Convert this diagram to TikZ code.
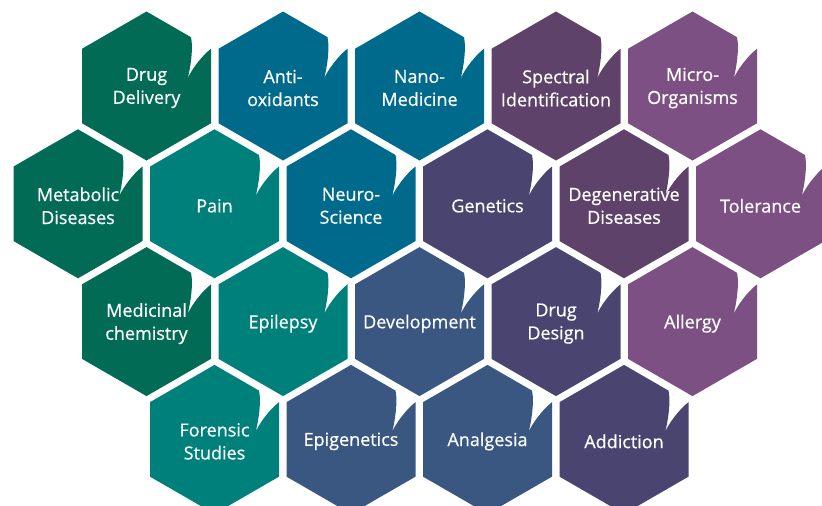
\documentclass[tikz,border=0pt]{standalone}
\usepackage{fontspec}
\setmainfont{Open Sans}
\newfontfamily\cellfont[FakeBold=0.6]{Open Sans}
\usetikzlibrary{positioning}

\definecolor{dgreen}{HTML}{016B55}
\definecolor{teal}{HTML}{00807A}
\definecolor{petrol}{HTML}{006A8C}
\definecolor{slate}{HTML}{3A5782}
\definecolor{indigo}{HTML}{4A4470}
\definecolor{plum}{HTML}{5F4269}
\definecolor{mauve}{HTML}{7D5083}

\tikzset{
  celltext/.style={text=white, align=center, font=\cellfont\fontsize{18}{23}\selectfont},
  pics/cell/.style n args={2}{
    code={
      % hexagon with the curled corner at the upper right
      \fill[#1] (0,74.5) -- (44.5,48.8) .. controls (47,38) and (44,18) .. (41,7)
        .. controls (44,15) and (55,30) .. (64.5,37.25) -- (64.5,-37.25)
        -- (0,-74.5) -- (-64.5,-37.25) -- (-64.5,37.25) -- cycle;
      \node[celltext] (-txt) at (0,-2) {#2};
    }
  }
}

\begin{document}
\begin{tikzpicture}[x=1pt,y=1pt]
    \useasboundingbox (0,0) rectangle (822,-506);
    \clip (0,0) rectangle (822,-506);
    % first row
    \pic (dd) at (146.5,-86) {cell={dgreen}{Drug\\Delivery}};
    \pic (ao) at (283,-86) {cell={petrol}{Anti-\\oxidants}};
    \pic (nm) at (419.5,-86) {cell={petrol}{Nano-\\Medicine}};
    \pic (si) at (556,-86) {cell={plum}{Spectral\\Identification}};
    \pic (mo) at (692.5,-86) {cell={mauve}{Micro-\\Organisms}};
    % second row
    \pic (md) at (78,-203.8) {cell={dgreen}{Metabolic\\Diseases}};
    \pic (pa) at (214.5,-203.8) {cell={teal}{Pain}};
    \pic (ns) at (351,-203.8) {cell={petrol}{Neuro-\\Science}};
    \pic (ge) at (487.5,-203.8) {cell={indigo}{Genetics}};
    \pic (dg) at (624,-203.8) {cell={plum}{Degenerative\\Diseases}};
    \pic (to) at (760.5,-203.8) {cell={mauve}{Tolerance}};
    % third row
    \pic (mc) at (146.5,-321.6) {cell={dgreen}{Medicinal\\chemistry}};
    \pic (ep) at (283,-321.6) {cell={teal}{Epilepsy}};
    \pic (dv) at (419.5,-321.6) {cell={slate}{Development}};
    \pic (ds) at (556,-321.6) {cell={indigo}{Drug\\Design}};
    \pic (al) at (692.5,-321.6) {cell={mauve}{Allergy}};
    % fourth row
    \pic (fs) at (214.5,-439.4) {cell={teal}{Forensic\\Studies}};
    \pic (eg) at (351,-439.4) {cell={slate}{Epigenetics}};
    \pic (an) at (487.5,-439.4) {cell={slate}{Analgesia}};
    \pic (ad) at (624,-439.4) {cell={indigo}{Addiction}};
\end{tikzpicture}
\end{document}
